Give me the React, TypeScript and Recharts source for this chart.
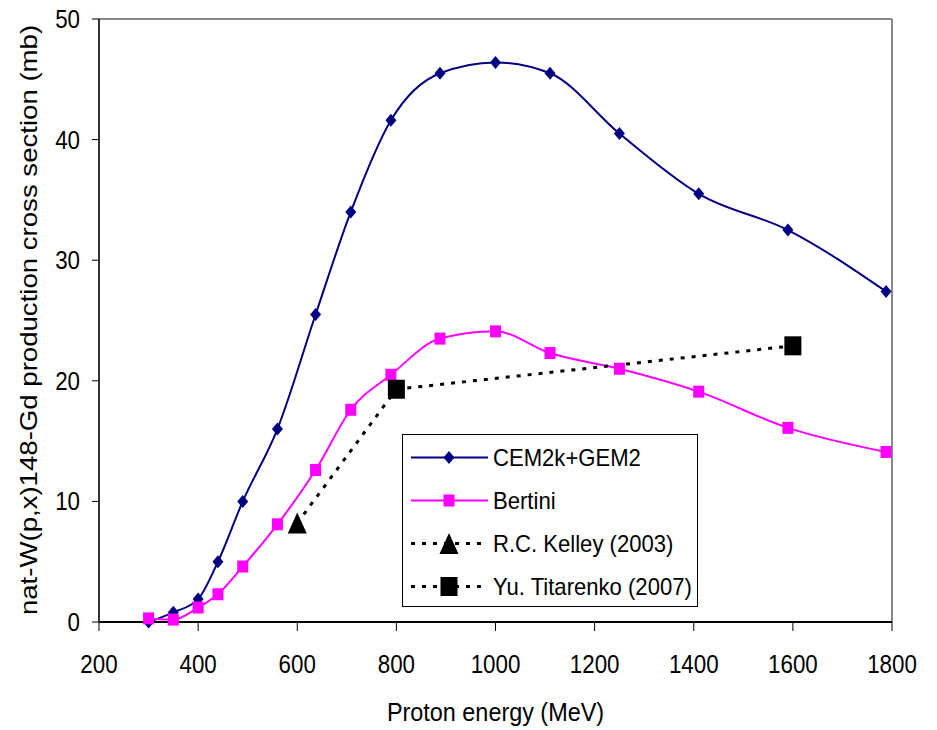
import { LineChart, Line, XAxis, YAxis, Legend, ReferenceLine, Label } from 'recharts';

// proton energies (MeV) shared by the two model curves
const energies = [300, 350, 400, 440, 490, 560, 637, 708, 789, 888, 1000, 1110, 1250, 1410, 1590, 1788];
const cemValues = [0.0, 0.8, 1.9, 5.0, 10.0, 16.0, 25.5, 34.0, 41.6, 45.5, 46.4, 45.5, 40.5, 35.5, 32.5, 27.4];
const bertiniValues = [0.3, 0.2, 1.2, 2.3, 4.6, 8.1, 12.6, 17.6, 20.5, 23.5, 24.1, 22.3, 21.0, 19.1, 16.1, 14.1];

// measurements
const kelleyEnergies = [600, 800];
const kelleyValues = [8.2, 19.3];
const titarenkoEnergies = [800, 1600];
const titarenkoValues = [19.3, 22.9];

const xTicks = [200, 400, 600, 800, 1000, 1200, 1400, 1600, 1800];
const yTicks = [0, 10, 20, 30, 40, 50];

const NAVY = '#000080';
const MAGENTA = '#FF00FF';
const FONT = '"Liberation Sans", Arial, sans-serif';

const toPoints = (xs: number[], ys: number[]) => xs.map((e, i) => ({ e, v: ys[i] }));

const cemData = toPoints(energies, cemValues);
const bertiniData = toPoints(energies, bertiniValues);
const kelleyData = toPoints(kelleyEnergies, kelleyValues);
const titarenkoData = toPoints(titarenkoEnergies, titarenkoValues);

function diamondShape(cx: number, cy: number) {
  return <polygon points={`${cx},${cy - 6.5} ${cx + 5.5},${cy} ${cx},${cy + 6.5} ${cx - 5.5},${cy}`} fill={NAVY} />;
}
function smallSquare(cx: number, cy: number) {
  return <rect x={cx - 5.5} y={cy - 6} width={11} height={12} fill={MAGENTA} />;
}
function bigSquare(cx: number, cy: number) {
  return <rect x={cx - 8.5} y={cy - 9.5} width={17} height={19} fill="#000" />;
}
function triangle(cx: number, cy: number) {
  return <polygon points={`${cx},${cy - 10.5} ${cx + 9.5},${cy + 10.5} ${cx - 9.5},${cy + 10.5}`} fill="#000" />;
}

const DiamondDot = (p: any) => (p.cx == null ? <g /> : <g>{diamondShape(p.cx, p.cy)}</g>);
const PinkDot = (p: any) => (p.cx == null ? <g /> : <g>{smallSquare(p.cx, p.cy)}</g>);
const BlackSquareDot = (p: any) => (p.cx == null ? <g /> : <g>{bigSquare(p.cx, p.cy)}</g>);
// the Kelley series only has its own marker on the first point
const TriangleDot = (p: any) => (p.cx == null || p.index !== 0 ? <g /> : <g>{triangle(p.cx, p.cy)}</g>);

const XTick = ({ x, y, payload }: any) => (
  <g transform={`translate(${x},${y + 40})`}>
    <text transform="scale(0.86,1)" textAnchor="middle" fontSize={26} fontFamily={FONT} fill="#000">
      {payload.value}
    </text>
  </g>
);

const YTick = ({ x, y, payload }: any) => (
  <g transform={`translate(${x - 10},${y + 9})`}>
    <text transform="scale(0.86,1)" textAnchor="end" fontSize={26} fontFamily={FONT} fill="#000">
      {payload.value}
    </text>
  </g>
);

const YTitle = () => (
  <g transform="translate(37,320) rotate(-90)">
    <text transform="scale(1.2,1)" textAnchor="middle" fontSize={23} fontFamily={FONT} fill="#000">
      nat-W(p,x)148-Gd production cross section (mb)
    </text>
  </g>
);

const XTitle = () => (
  <g transform="translate(495.5,721)">
    <text transform="scale(0.9,1)" textAnchor="middle" fontSize={26} fontFamily={FONT} fill="#000">
      Proton energy (MeV)
    </text>
  </g>
);

const legendItems = [
  { name: 'CEM2k+GEM2', color: NAVY, dash: undefined, marker: diamondShape },
  { name: 'Bertini', color: MAGENTA, dash: undefined, marker: smallSquare },
  { name: 'R.C. Kelley (2003)', color: '#000', dash: '4 7', marker: triangle },
  { name: 'Yu. Titarenko (2007)', color: '#000', dash: '4 7', marker: bigSquare },
];

const LegendBox = () => (
  <div
    style={{
      border: '1px solid #000',
      background: '#fff',
      boxSizing: 'border-box',
      width: 296,
      height: 173,
      paddingTop: 1,
      fontFamily: FONT,
    }}
  >
    {legendItems.map((item) => (
      <div key={item.name} style={{ height: 43, display: 'flex', alignItems: 'center' }}>
        <svg width={90} height={43} style={{ flex: 'none' }}>
          <line
            x1={8}
            x2={85}
            y1={21.5}
            y2={21.5}
            stroke={item.color}
            strokeWidth={item.dash ? 3 : 2}
            strokeDasharray={item.dash}
          />
          {item.marker(46, 21.5)}
        </svg>
        <span
          style={{
            display: 'inline-block',
            fontSize: 24,
            color: '#000',
            transform: 'scaleX(0.92)',
            transformOrigin: 'left center',
            whiteSpace: 'nowrap',
          }}
        >
          {item.name}
        </span>
      </div>
    ))}
  </div>
);

export default function App() {
  return (
    <div style={{ position: 'absolute', left: 0, top: 0, width: 937, height: 730, background: '#fff' }}>
      <LineChart width={937} height={730} margin={{ top: 19, right: 45, left: 0, bottom: 0 }}>
        <XAxis
          type="number"
          dataKey="e"
          domain={[200, 1800]}
          ticks={xTicks}
          interval={0}
          tick={<XTick />}
          tickSize={9}
          height={108}
          axisLine={{ stroke: '#000', strokeWidth: 2 }}
          tickLine={{ stroke: '#000' }}
          allowDuplicatedCategory={false}
        >
          <Label content={<XTitle />} />
        </XAxis>
        <YAxis
          type="number"
          dataKey="v"
          domain={[0, 50]}
          ticks={yTicks}
          interval={0}
          tick={<YTick />}
          tickSize={7}
          width={99}
          axisLine={{ stroke: '#333', strokeWidth: 2 }}
          tickLine={{ stroke: '#000' }}
        >
          <Label content={<YTitle />} />
        </YAxis>
        <ReferenceLine y={50} stroke="#888" strokeWidth={2} />
        <ReferenceLine x={1800} stroke="#888" strokeWidth={2} />
        <Line
          data={cemData}
          dataKey="v"
          name="CEM2k+GEM2"
          type="monotone"
          stroke={NAVY}
          strokeWidth={2}
          dot={DiamondDot}
          activeDot={false}
          isAnimationActive={false}
        />
        <Line
          data={bertiniData}
          dataKey="v"
          name="Bertini"
          type="monotone"
          stroke={MAGENTA}
          strokeWidth={2}
          dot={PinkDot}
          activeDot={false}
          isAnimationActive={false}
        />
        <Line
          data={kelleyData}
          dataKey="v"
          name="R.C. Kelley (2003)"
          type="monotone"
          stroke="#000"
          strokeWidth={3}
          strokeDasharray="4 7"
          dot={TriangleDot}
          activeDot={false}
          isAnimationActive={false}
        />
        <Line
          data={titarenkoData}
          dataKey="v"
          name="Yu. Titarenko (2007)"
          type="monotone"
          stroke="#000"
          strokeWidth={3}
          strokeDasharray="4 7"
          dot={BlackSquareDot}
          activeDot={false}
          isAnimationActive={false}
        />
        <Legend
          layout="vertical"
          align="center"
          verticalAlign="middle"
          content={<LegendBox />}
          wrapperStyle={{ left: 402, top: 434, width: 296, height: 173 }}
        />
      </LineChart>
    </div>
  );
}
